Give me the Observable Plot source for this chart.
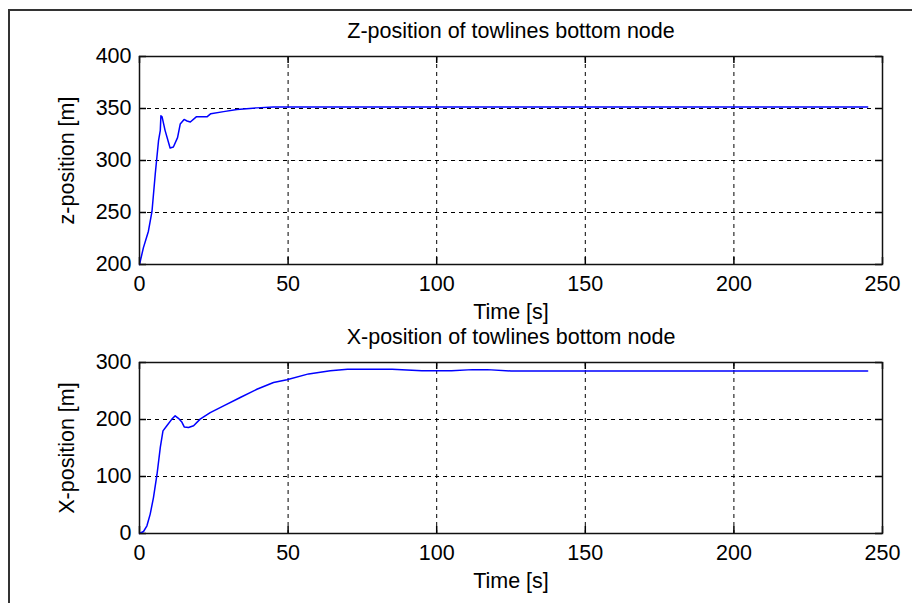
<!DOCTYPE html>
<html>
<head>
<meta charset="utf-8">
<script src="https://cdn.jsdelivr.net/npm/d3@7"></script>
<script src="https://cdn.jsdelivr.net/npm/@observablehq/plot@0.6"></script>
<style>
  body { margin: 0; background: #fff; }
  #wrap { position: relative; width: 912px; height: 603px; overflow: hidden; background: #fff; }
  #border { position: absolute; left: 8px; top: 9px; width: 1000px; height: 1000px;
            border-left: 2px solid #333; border-top: 2px solid #333; }
  #top, #bottom { position: absolute; left: 0; }
  #top { top: 0; }
  #bottom { top: 326px; }
</style>
</head>
<body>
<div id="wrap">
  <div id="border"></div>
  <div id="top"></div>
  <div id="bottom"></div>
</div>
<script>
// Tick values
const timeTicks = [0, 50, 100, 150, 200, 250];
const zTicks = [200, 250, 300, 350, 400];
const xTicks = [0, 100, 200, 300];

// Z-position of the towline's bottom node (m) over time (s)
const zTime = [0, 1.3, 3.0, 4.2, 5.3, 6.4, 7.0, 7.2, 7.6, 8.6, 10.3, 11.4, 12.8, 13.7, 15.0, 16.0, 17.1, 19.1, 22.7, 24.0, 28.3, 32.8, 39.5, 45, 60, 100, 150, 200, 245];
const zPos  = [200, 216, 232, 251, 287, 319, 329, 343, 342, 329, 312, 313, 322, 335, 339.5, 338, 337, 342, 342, 345, 347, 349, 350.6, 351.5, 351.5, 351.5, 351.5, 351.5, 351.5];

// X-position of the towline's bottom node (m) over time (s)
const xTime = [0, 1.35, 2.5, 3.6, 4.7, 5.9, 7.0, 7.9, 9.2, 10.9, 12.0, 13.1, 14.3, 15.05, 16.5, 18.2, 20.4, 23.8, 28.3, 33.9, 39.5, 45.1, 49.6, 56.9, 64.2, 70, 85, 95, 105, 112, 117, 125, 150, 200, 245];
const xPos  = [0, 3.5, 13.5, 34, 63, 104, 151, 180, 189, 200.7, 206.5, 202, 195, 187, 186, 189, 200.7, 212, 224, 238.6, 253, 265, 269.6, 280, 285.4, 288, 288, 285.5, 285.5, 287.5, 287.5, 285, 285, 285, 285];

const FONT = "'Liberation Sans', Arial, sans-serif";
const FONT_SIZE = 21.5;

function panel({time, values, yDomain, yTicks, title, xlabel, ylabel, height, marginTop, marginBottom}) {
  const width = 912, marginLeft = 139, marginRight = 30;
  const innerH = height - marginTop - marginBottom;
  const innerW = width - marginLeft - marginRight;
  const series = time.map((t, i) => ({t, v: values[i]}));
  const dashed = {stroke: "#000", strokeOpacity: 1, strokeWidth: 1, strokeDasharray: "4,4"};
  const tick = {stroke: "#000", strokeWidth: 1.5};
  const label = {text: d => d, lineAnchor: "middle", textAnchor: "middle"};
  return Plot.plot({
    width, height, marginLeft, marginRight, marginTop, marginBottom,
    style: {fontFamily: FONT, fontSize: `${FONT_SIZE}px`, color: "#000", background: "transparent", overflow: "visible"},
    x: {domain: [0, 250]},
    y: {domain: yDomain},
    marks: [
      Plot.gridX(timeTicks.slice(1, -1), dashed),
      Plot.gridY(yTicks.slice(1, -1), dashed),
      // inward tick marks on all four sides
      Plot.tickX(timeTicks, {x: d => d, insetTop: innerH - 7, ...tick}),
      Plot.tickX(timeTicks, {x: d => d, insetBottom: innerH - 7, ...tick}),
      Plot.tickY(yTicks, {y: d => d, insetRight: innerW - 7, ...tick}),
      Plot.tickY(yTicks, {y: d => d, insetLeft: innerW - 7, ...tick}),
      Plot.line(series, {x: "t", y: "v", stroke: "#0000ff", strokeWidth: 1.5}),
      Plot.frame({stroke: "#111", strokeWidth: 1.5}),
      Plot.axisX(timeTicks, {tickSize: 0, tickPadding: 11, label: null}),
      Plot.axisY(yTicks, {tickSize: 0, tickPadding: 8, label: null}),
      Plot.text([title], {...label, frameAnchor: "top", dy: -25}),
      Plot.text([xlabel], {...label, frameAnchor: "bottom", dy: 48}),
      Plot.text([ylabel], {...label, frameAnchor: "left", dx: -72, rotate: -90})
    ]
  });
}

document.getElementById("top").append(panel({
  time: zTime, values: zPos, yDomain: [200, 400], yTicks: zTicks,
  title: "Z-position of towlines bottom node", xlabel: "Time [s]", ylabel: "z-position [m]",
  height: 326, marginTop: 56, marginBottom: 62
}));

document.getElementById("bottom").append(panel({
  time: xTime, values: xPos, yDomain: [0, 300], yTicks: xTicks,
  title: "X-position of towlines bottom node", xlabel: "Time [s]", ylabel: "X-position [m]",
  height: 277, marginTop: 36, marginBottom: 70
}));
</script>
</body>
</html>
